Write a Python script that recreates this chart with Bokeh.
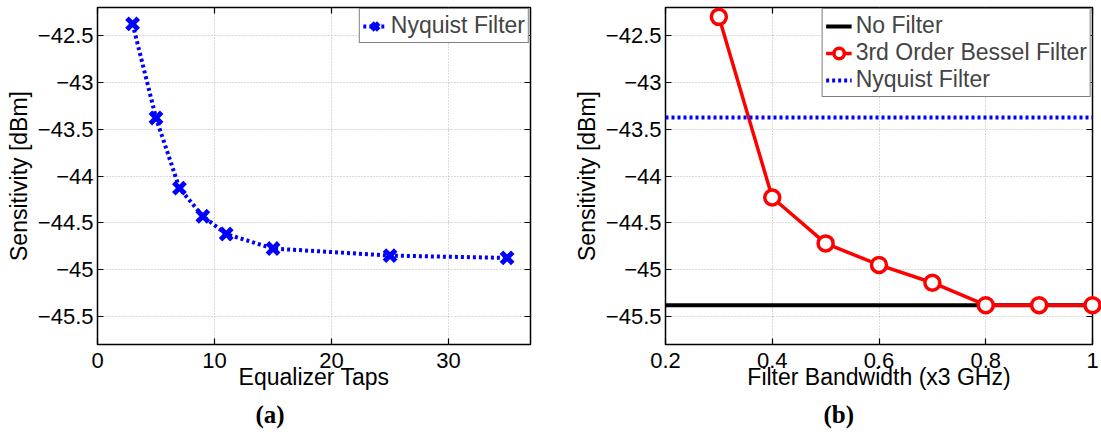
from bokeh.plotting import figure
from bokeh.layouts import row
from bokeh.models import (FixedTicker, LinearAxis, Range1d, Title, Label,
                          CustomJSTickFormatter)
from bokeh.embed import file_html
from bokeh.resources import INLINE

# ---------------- data ----------------
taps = [3, 5, 7, 9, 11, 15, 25, 35]
nyquist_taps_sens = [-42.375, -43.38, -44.13, -44.43, -44.62, -44.775, -44.85, -44.875]

bandwidth = [0.3, 0.4, 0.5, 0.6, 0.7, 0.8, 0.9, 1.0]
bessel_sens = [-42.30, -44.23, -44.72, -44.95, -45.14, -45.38, -45.38, -45.38]
bw_span = [0.2, 1.0]
no_filter_level = [-45.38, -45.38]
nyquist_level = [-43.375, -43.375]

x_ticks_a = [0, 10, 20, 30]
x_ticks_b = [0.2, 0.4, 0.6, 0.8, 1.0]
y_ticks = [-45.5, -45.0, -44.5, -44.0, -43.5, -43.0, -42.5]

FONT = "Liberation Sans"
BLUE = "#0000ff"
RED = "#ff0000"

fmt = CustomJSTickFormatter(code="""
    return (tick < 0 ? "\\u2212" : "") + Math.abs(tick).toString();
""")
blank = CustomJSTickFormatter(code="return '';")


def style(p, xticks, xlabel, sub, sub_offset):
    p.outline_line_color = "black"
    p.outline_line_width = 1.5
    for ax in p.xaxis + p.yaxis:
        ax.major_tick_in = 6
        ax.major_tick_out = 0
        ax.minor_tick_line_color = None
        ax.axis_line_color = None
        ax.major_tick_line_color = "black"
        ax.major_tick_line_width = 1.2
        ax.major_label_text_font = FONT
        ax.major_label_text_font_size = "22px"
        ax.major_label_text_color = "black"
        ax.axis_label_text_font = FONT
        ax.axis_label_text_font_size = "23px"
        ax.axis_label_text_font_style = "normal"
        ax.axis_label_text_color = "black"
        ax.formatter = fmt
    p.xaxis.ticker = FixedTicker(ticks=xticks)
    p.yaxis.ticker = FixedTicker(ticks=y_ticks)
    p.xaxis.axis_label = xlabel
    p.yaxis.axis_label = "Sensitivity [dBm]"
    p.xaxis.major_label_standoff = 8
    p.xaxis.axis_label_standoff = -7
    p.yaxis.major_label_standoff = 4
    p.yaxis.axis_label_standoff = 3
    for loc, tk in (("above", xticks), ("right", y_ticks)):
        ax = LinearAxis(ticker=FixedTicker(ticks=tk), major_tick_in=6,
                        major_tick_out=0, minor_tick_line_color=None,
                        axis_line_color=None, formatter=blank,
                        major_label_text_font_size="1px",
                        major_label_standoff=0, major_tick_line_width=1.2)
        p.add_layout(ax, loc)
    p.xgrid.ticker = FixedTicker(ticks=xticks)
    p.ygrid.ticker = FixedTicker(ticks=y_ticks)
    for g in (p.xgrid, p.ygrid):
        g.grid_line_color = "#b4b4b4"
        g.grid_line_dash = "1 2"
        g.grid_line_width = 1
    p.add_layout(Title(text=sub, align="left", offset=sub_offset,
                       text_font="Liberation Serif", text_font_style="bold",
                       text_font_size="25px", text_line_height=0.75,
                       standoff=13, text_color="black"),
                 "below")
    p.legend.location = "top_right"
    p.legend.margin = 1
    p.legend.padding = 3
    p.legend.spacing = 0
    p.legend.label_text_font = FONT
    p.legend.label_text_font_size = "23px"
    p.legend.label_height = 26
    p.legend.glyph_height = 26
    p.legend.label_standoff = 4
    p.legend.border_line_color = "black"
    p.legend.border_line_width = 1.2
    p.legend.background_fill_alpha = 1


# ---------------- (a) ----------------
pa = figure(width=570, height=434, output_backend="svg", toolbar_location=None,
            x_range=Range1d(0, 37), y_range=Range1d(-45.8, -42.2),
            min_border_left=97, min_border_right=40, min_border_top=7,
            min_border_bottom=90)
pa.line(taps, nyquist_taps_sens, line_color=BLUE, line_width=4,
        line_dash="3 3", legend_label="Nyquist Filter")
pa.scatter(taps, nyquist_taps_sens, marker="x", size=16, line_color=BLUE,
           line_width=5, legend_label="Nyquist Filter")
style(pa, x_ticks_a, "Equalizer Taps", "(a)", 158)
pa.legend.glyph_width = 24

# ---------------- (b) ----------------
pb = figure(width=531, height=434, output_backend="svg", toolbar_location=None,
            x_range=Range1d(0.2, 1.0), y_range=Range1d(-45.8, -42.2),
            min_border_left=93, min_border_right=9, min_border_top=7,
            min_border_bottom=90)
pb.line(bw_span, no_filter_level, line_color="black", line_width=4,
        legend_label="No Filter")
pb.line(bandwidth, bessel_sens, line_color=RED, line_width=3.5,
        legend_label="3rd Order Bessel Filter")
pb.scatter(bandwidth, bessel_sens, marker="circle", size=15, line_color=RED,
           fill_color="white", line_width=3.5,
           legend_label="3rd Order Bessel Filter", level="overlay")
pb.line(bw_span, nyquist_level, line_color=BLUE, line_width=4,
        line_dash="3 3", legend_label="Nyquist Filter")
style(pb, x_ticks_b, "Filter Bandwidth (x3 GHz)", "(b)", 158)
pb.legend.glyph_width = 26
pb.add_layout(Label(x=0.9995, y=-42.77, text=".", text_font=FONT,
                    text_font_size="22px", text_color="black",
                    text_align="right", text_baseline="alphabetic"))

layout = row(pa, pb, spacing=0)
open("out.html", "w").write(file_html(layout, INLINE))
